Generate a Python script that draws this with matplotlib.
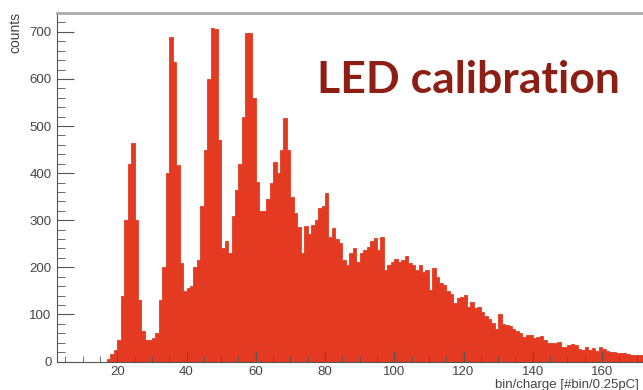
import numpy as np
import matplotlib.pyplot as plt
from matplotlib.ticker import MultipleLocator

# histogram contents, one bin per unit starting at x=16
first_bin = 16
counts = [0, 5, 15, 25, 45, 140, 300, 420, 464, 300,
          130, 65, 45, 45, 50, 60, 130, 200, 400, 690,
          636, 417, 209, 150, 156, 160, 201, 215, 330, 450,
          600, 708, 705, 470, 240, 255, 230, 310, 365, 420,
          520, 698, 698, 560, 381, 320, 320, 345, 380, 424,
          400, 450, 517, 450, 350, 315, 285, 230, 288, 270,
          290, 300, 326, 330, 358, 265, 283, 260, 252, 215,
          205, 230, 240, 212, 230, 237, 244, 255, 262, 237,
          265, 195, 205, 212, 217, 212, 215, 224, 210, 205,
          195, 205, 191, 195, 152, 198, 180, 166, 163, 150,
          143, 125, 135, 138, 141, 115, 127, 113, 116, 106,
          97, 90, 81, 70, 100, 80, 78, 76, 70, 65,
          60, 53, 56, 56, 49, 53, 55, 45, 39, 39,
          39, 42, 30, 30, 35, 37, 34, 27, 24, 31,
          25, 28, 23, 30, 26, 22, 21, 20, 19, 19,
          18, 15, 14, 14, 13, 13, 12, 12, 11]
edges = np.arange(first_bin, first_bin + len(counts) + 1)

plt.rcParams['font.family'] = ['Liberation Sans', 'DejaVu Sans']

fig = plt.figure(figsize=(6.43, 3.90), dpi=100)
ax = fig.add_axes([57/643, 28.5/390, 597/643, 348.5/390])
ax.stairs(counts, edges, fill=True, facecolor="#e33a21", edgecolor="#e33a21", linewidth=0.6)

ax.set_xlim(2.6, 175)
ax.set_ylim(0, 740)
ax.xaxis.set_major_locator(MultipleLocator(20))
ax.xaxis.set_minor_locator(MultipleLocator(5))
ax.yaxis.set_major_locator(MultipleLocator(100))
ax.yaxis.set_minor_locator(MultipleLocator(20))
ax.tick_params(which="both", direction="in", colors="#555555", labelcolor="#444444",
               labelsize=9.5, top=False, right=False)
ax.tick_params(axis="y", which="major", length=12, pad=4)
ax.tick_params(axis="y", which="minor", length=6)
ax.tick_params(axis="x", which="major", length=8, pad=3)
ax.tick_params(axis="x", which="minor", length=4)
ax.set_xticks([20, 40, 60, 80, 100, 120, 140, 160])

for s in ["left", "bottom"]:
    ax.spines[s].set_color("#555555")
ax.spines["top"].set_color("#aaaaaa")
ax.spines["top"].set_linewidth(2)
ax.spines["right"].set_visible(False)

fig.text(15/643, 1 - 12/390, "counts", rotation=90, ha="center", va="top",
         fontsize=10, color="#444444")
fig.text(495/643, 1 - 385/390, "bin/charge [#bin/0.25pC]", ha="left", va="center",
         fontsize=9.5, color="#444444")

fig.text(468/643, 1 - 93/390, "LED calibration", ha="center", va="baseline",
         fontsize=32, fontweight="bold", color="#8c1e14", family=["Lato", "DejaVu Sans"])

plt.savefig("out.png", dpi=100)
